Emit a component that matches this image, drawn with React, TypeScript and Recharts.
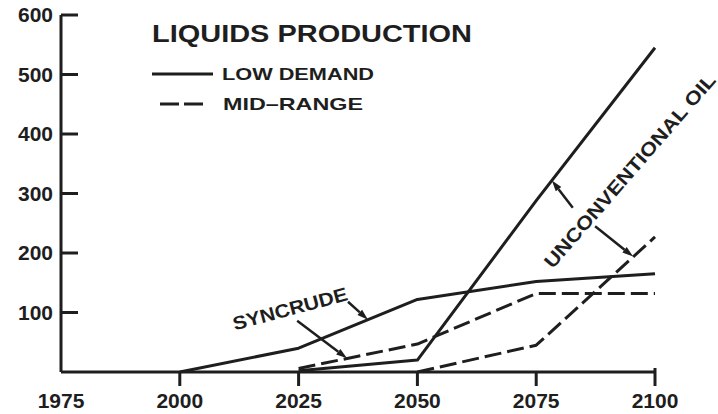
import React from 'react';
import { LineChart, Line, XAxis, YAxis, ReferenceLine, ReferenceDot } from 'recharts';

const years = [2000, 2025, 2050, 2075, 2100];
const syncrudeLow = [0, 40, 122, 152, 165];
const syncrudeMid = [null, 6, 47, 132, 132];
const unconvLow = [null, 2, 20, 288, 545];
const unconvMid = [null, null, 0, 45, 227];

const xTicks = [1975, 2000, 2025, 2050, 2075, 2100];
const yTicks = [100, 200, 300, 400, 500, 600];

const data = years.map((year, i) => ({
  year,
  syncrudeLow: syncrudeLow[i],
  syncrudeMid: syncrudeMid[i],
  unconvLow: unconvLow[i],
  unconvMid: unconvMid[i],
}));

const INK = '#1e1e1e';
const FONT = '"Liberation Sans", Arial, sans-serif';

const YTick = (props: any) => {
  const { x, y, payload } = props;
  return (
    <g>
      <line x1={x} y1={y} x2={x + 17} y2={y} stroke={INK} strokeWidth={3} />
      <text x={x - 8} y={y + 7} textAnchor="end" fontFamily={FONT} fontWeight="bold" fontSize={21} fill={INK}>
        {payload.value}
      </text>
    </g>
  );
};

const XTick = (props: any) => {
  const { x, y, payload } = props;
  return (
    <g>
      {payload.value !== 1975 && (
        <line x1={x} y1={payload.value === 2100 ? y - 4 : y} x2={x} y2={y + 14} stroke={INK} strokeWidth={3} />
      )}
      <text x={x} y={y + 36} textAnchor="middle" fontFamily={FONT} fontWeight="bold" fontSize={21} fill={INK}>
        {payload.value}
      </text>
    </g>
  );
};

// arrow drawn between the two ends of a reference segment
const Arrow = (props: any) => {
  const { x1, y1, x2, y2 } = props;
  const ang = Math.atan2(y2 - y1, x2 - x1);
  const len = 11;
  const w = 3.5;
  const bx = x2 - len * Math.cos(ang);
  const by = y2 - len * Math.sin(ang);
  const px = -Math.sin(ang) * w;
  const py = Math.cos(ang) * w;
  return (
    <g>
      <line x1={x1} y1={y1} x2={bx} y2={by} stroke={INK} strokeWidth={2.5} />
      <polygon points={`${x2},${y2} ${bx + px},${by + py} ${bx - px},${by - py}`} fill={INK} />
    </g>
  );
};

const rotatedLabel = (text: string, angle: number, length: number) => (props: any) => {
  const { cx, cy } = props;
  return (
    <text
      x={cx}
      y={cy}
      transform={`rotate(${angle} ${cx} ${cy})`}
      textAnchor="middle"
      dominantBaseline="central"
      fontFamily={FONT}
      fontWeight="bold"
      fontSize={19}
      fill={INK}
      textLength={length}
      lengthAdjust="spacingAndGlyphs"
    >
      {text}
    </text>
  );
};

export default function App() {
  return (
    <div style={{ position: 'absolute', left: 0, top: 0, width: 718, height: 414, background: '#fff' }}>
      <LineChart width={718} height={414} data={data} margin={{ top: 15, right: 63, left: 0, bottom: 0 }}>
        <XAxis
          dataKey="year"
          type="number"
          domain={[1975, 2100]}
          ticks={xTicks}
          height={42}
          tickSize={0}
          tickMargin={0}
          tickLine={false}
          axisLine={{ stroke: INK, strokeWidth: 3 }}
          tick={<XTick />}
          interval={0}
        />
        <YAxis
          type="number"
          domain={[0, 600]}
          ticks={yTicks}
          width={61}
          tickSize={0}
          tickMargin={0}
          tickLine={false}
          axisLine={{ stroke: INK, strokeWidth: 3 }}
          tick={<YTick />}
          interval={0}
        />
        <Line type="linear" dataKey="syncrudeLow" stroke={INK} strokeWidth={3} dot={false} strokeLinejoin="round" isAnimationActive={false} />
        <Line type="linear" dataKey="syncrudeMid" stroke={INK} strokeWidth={3} strokeDasharray="17 6" dot={false} strokeLinejoin="round" isAnimationActive={false} />
        <Line type="linear" dataKey="unconvLow" stroke={INK} strokeWidth={3} dot={false} strokeLinejoin="round" isAnimationActive={false} />
        <Line type="linear" dataKey="unconvMid" stroke={INK} strokeWidth={3} strokeDasharray="17 6" dot={false} strokeLinejoin="round" isAnimationActive={false} />

        <ReferenceLine segment={[{ x: 2024.7, y: 86 }, { x: 2035.2, y: 23 }]} shape={<Arrow />} />
        <ReferenceLine segment={[{ x: 2035.4, y: 118 }, { x: 2039.6, y: 88 }]} shape={<Arrow />} />
        <ReferenceLine segment={[{ x: 2082.7, y: 276 }, { x: 2078.3, y: 322 }]} shape={<Arrow />} />
        <ReferenceLine segment={[{ x: 2087.4, y: 245 }, { x: 2095.4, y: 194 }]} shape={<Arrow />} />

        <ReferenceDot x={2023.2} y={106} r={0} shape={rotatedLabel('SYNCRUDE', -15, 118)} />
        <ReferenceDot x={2094.7} y={338} r={0} shape={rotatedLabel('UNCONVENTIONAL OIL', -49, 250)} />
      </LineChart>
      <svg width={718} height={414} style={{ position: 'absolute', left: 0, top: 0, pointerEvents: 'none' }}>
        <text x={152} y={42} fontFamily={FONT} fontWeight="bold" fontSize={24} fill={INK} textLength={320} lengthAdjust="spacingAndGlyphs">
          LIQUIDS PRODUCTION
        </text>
        <line x1={152} y1={74} x2={213} y2={74} stroke={INK} strokeWidth={3} />
        <text x={222} y={80} fontFamily={FONT} fontWeight="bold" fontSize={17} fill={INK} textLength={152} lengthAdjust="spacingAndGlyphs">
          LOW DEMAND
        </text>
        <line x1={160} y1={104} x2={203} y2={104} stroke={INK} strokeWidth={3} strokeDasharray="19 5" />
        <text x={223} y={110} fontFamily={FONT} fontWeight="bold" fontSize={17} fill={INK} textLength={140} lengthAdjust="spacingAndGlyphs">
          MID–RANGE
        </text>
      </svg>
    </div>
  );
}
